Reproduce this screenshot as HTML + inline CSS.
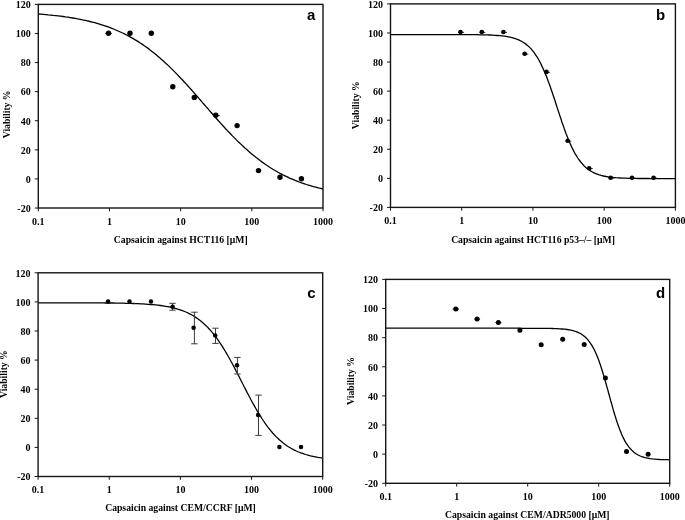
<!DOCTYPE html>
<html><head><meta charset="utf-8"><style>
html,body{margin:0;padding:0;background:#fff;}
svg{display:block;will-change:transform;}
text{font-family:"Liberation Serif",serif;font-weight:bold;font-size:9.7px;fill:#000;}
text.tk{font-size:10px;}
text.lt{font-family:"Liberation Sans",sans-serif;font-size:15px;}
</style></head><body>
<svg width="685" height="520" viewBox="0 0 685 520">
<path d="M38.3,14.0 40.8,14.2 43.3,14.4 45.8,14.6 48.3,14.9 50.7,15.1 53.2,15.4 55.7,15.6 58.1,15.9 60.6,16.2 63.0,16.5 65.5,16.9 68.0,17.2 70.4,17.6 72.8,18.0 75.3,18.4 77.7,18.9 80.2,19.3 82.7,19.9 85.1,20.4 87.5,20.9 89.9,21.5 92.3,22.1 94.7,22.7 97.1,23.4 99.5,24.1 101.8,24.8 104.2,25.6 106.6,26.4 108.9,27.2 111.2,28.1 113.6,29.0 115.8,30.0 118.1,31.0 120.4,32.0 122.6,33.0 124.9,34.1 127.1,35.3 129.2,36.4 131.4,37.6 133.6,38.9 135.7,40.1 137.8,41.4 139.9,42.8 142.0,44.1 144.0,45.5 146.1,47.0 148.1,48.4 150.1,49.9 152.0,51.4 154.0,53.0 155.9,54.6 157.8,56.2 159.7,57.8 161.5,59.4 163.4,61.0 165.2,62.7 167.1,64.4 168.9,66.1 170.6,67.9 172.4,69.6 174.2,71.4 175.9,73.1 177.6,74.9 179.3,76.7 181.0,78.5 182.8,80.3 184.5,82.2 186.1,83.9 187.8,85.8 189.4,87.6 191.1,89.5 192.8,91.4 194.4,93.3 196.1,95.1 197.7,97.0 199.3,98.9 200.9,100.7 202.5,102.6 204.2,104.5 205.8,106.4 207.5,108.2 209.1,110.1 210.7,112.0 212.3,113.8 213.9,115.7 215.6,117.6 217.3,119.5 218.9,121.3 220.6,123.1 222.3,125.0 223.9,126.8 225.6,128.7 227.2,130.4 229.0,132.2 230.7,134.0 232.4,135.9 234.2,137.6 235.9,139.4 237.6,141.1 239.4,142.8 241.3,144.6 243.1,146.3 244.9,148.0 246.8,149.6 248.6,151.3 250.5,152.9 252.4,154.5 254.3,156.1 256.2,157.6 258.2,159.1 260.1,160.6 262.2,162.1 264.2,163.5 266.3,165.0 268.3,166.3 270.4,167.7 272.5,169.0 274.6,170.3 276.7,171.5 278.9,172.7 281.1,173.9 283.3,175.1 285.6,176.2 287.8,177.2 290.0,178.3 292.3,179.2 294.6,180.2 296.9,181.1 299.2,182.0 301.6,182.9 303.9,183.7 306.3,184.5 308.6,185.2 311.0,185.9 313.4,186.6 315.8,187.2 318.2,187.9 320.7,188.4 323.0,189.0" fill="none" stroke="#000" stroke-width="1.3"/>
<path d="M105.00,33.40 H112.00" stroke="#000" stroke-width="0.8"/>
<path d="M213.80,115.60 H219.80" stroke="#000" stroke-width="0.8"/>
<circle cx="108.5" cy="33.3" r="2.7" fill="#000"/>
<circle cx="130" cy="33.3" r="2.7" fill="#000"/>
<circle cx="151.3" cy="33.3" r="2.7" fill="#000"/>
<circle cx="172.8" cy="86.7" r="2.7" fill="#000"/>
<circle cx="194.3" cy="97.4" r="2.7" fill="#000"/>
<circle cx="215.8" cy="115.2" r="2.7" fill="#000"/>
<circle cx="237.1" cy="125.6" r="2.7" fill="#000"/>
<circle cx="258.5" cy="170.6" r="2.7" fill="#000"/>
<circle cx="280" cy="177.3" r="2.7" fill="#000"/>
<circle cx="301.4" cy="178.8" r="2.7" fill="#000"/>
<rect x="38.3" y="4.4" width="284.70" height="203.60" fill="none" stroke="#151515" stroke-width="1.4"/>
<text x="30.70" y="8.20" text-anchor="end" class="tk">120</text>
<text x="30.70" y="37.29" text-anchor="end" class="tk">100</text>
<text x="30.70" y="66.37" text-anchor="end" class="tk">80</text>
<text x="30.70" y="95.46" text-anchor="end" class="tk">60</text>
<text x="30.70" y="124.54" text-anchor="end" class="tk">40</text>
<text x="30.70" y="153.63" text-anchor="end" class="tk">20</text>
<text x="30.70" y="182.71" text-anchor="end" class="tk">0</text>
<text x="30.70" y="211.80" text-anchor="end" class="tk">-20</text>
<text x="38.30" y="224.90" text-anchor="middle" class="tk">0.1</text>
<text x="109.47" y="224.90" text-anchor="middle" class="tk">1</text>
<text x="180.65" y="224.90" text-anchor="middle" class="tk">10</text>
<text x="251.82" y="224.90" text-anchor="middle" class="tk">100</text>
<text x="323.00" y="224.90" text-anchor="middle" class="tk">1000</text>
<path d="M34.80,4.40 H38.30 M34.80,33.49 H38.30 M34.80,62.57 H38.30 M34.80,91.66 H38.30 M34.80,120.74 H38.30 M34.80,149.83 H38.30 M34.80,178.91 H38.30 M34.80,208.00 H38.30 M38.30,208.00 V211.30 M109.47,208.00 V211.30 M180.65,208.00 V211.30 M251.82,208.00 V211.30 M323.00,208.00 V211.30" stroke="#151515" stroke-width="1" fill="none"/>
<text x="315.3" y="20.0" text-anchor="end" class="lt">a</text>
<text transform="translate(10.2,114.35) rotate(-90)" text-anchor="middle">Viability %</text>
<text x="180.75" y="242.6" text-anchor="middle">Capsaicin against HCT116 [μM]</text>
<path d="M390.5,34.6 393.0,34.6 395.5,34.6 398.0,34.6 400.5,34.6 403.0,34.6 405.5,34.6 408.0,34.6 410.4,34.6 412.9,34.6 415.4,34.6 417.9,34.6 420.4,34.6 422.8,34.6 425.3,34.6 427.8,34.6 430.3,34.6 432.7,34.6 435.2,34.6 437.7,34.6 440.2,34.6 442.7,34.6 445.2,34.6 447.7,34.6 450.2,34.6 452.7,34.6 455.1,34.6 457.6,34.6 460.1,34.6 462.6,34.6 465.1,34.6 467.6,34.6 470.1,34.6 472.6,34.7 475.0,34.7 477.5,34.7 480.0,34.8 482.5,34.8 485.0,34.9 487.5,34.9 490.0,35.0 492.4,35.1 494.9,35.3 497.4,35.5 499.9,35.7 502.4,35.9 504.8,36.2 507.3,36.6 509.7,37.1 512.1,37.6 514.5,38.3 516.8,39.1 519.2,40.1 521.4,41.2 523.5,42.5 525.6,43.9 527.5,45.4 529.4,47.1 531.1,48.9 532.7,50.8 534.2,52.7 535.6,54.8 537.0,56.8 538.3,59.0 539.5,61.2 540.6,63.3 541.7,65.6 542.8,67.9 543.8,70.2 544.8,72.5 545.7,74.7 546.7,77.1 547.5,79.3 548.4,81.8 549.3,84.1 550.1,86.3 550.9,88.7 551.7,91.0 552.5,93.3 553.3,95.7 554.1,98.0 554.9,100.4 555.6,102.8 556.4,105.2 557.2,107.6 558.0,110.1 558.7,112.2 559.5,114.6 560.3,117.0 561.1,119.3 561.8,121.7 562.7,124.2 563.5,126.4 564.3,128.8 565.2,131.2 566.0,133.5 566.9,135.7 567.8,138.0 568.7,140.3 569.7,142.6 570.7,144.9 571.8,147.2 572.9,149.4 574.0,151.6 575.2,153.8 576.5,155.9 577.8,158.0 579.2,160.0 580.7,162.0 582.4,163.9 584.0,165.7 585.8,167.4 587.8,169.0 589.8,170.4 591.9,171.7 594.1,172.9 596.4,173.8 598.7,174.7 601.1,175.4 603.5,176.0 605.9,176.5 608.4,176.9 610.9,177.2 613.3,177.5 615.8,177.7 618.3,177.8 620.8,178.0 623.3,178.1 625.7,178.2 628.2,178.3 630.7,178.3 633.2,178.4 635.6,178.4 638.1,178.5 640.6,178.5 643.1,178.5 645.6,178.5 648.1,178.5 650.6,178.6 653.1,178.6 655.5,178.6 658.0,178.6 660.5,178.6 663.0,178.6 665.5,178.6 668.0,178.6 670.5,178.6 673.0,178.6 675.4,178.6" fill="none" stroke="#000" stroke-width="1.3"/>
<path d="M458.00,32.40 H464.10" stroke="#000" stroke-width="0.8"/>
<path d="M479.30,32.40 H485.40" stroke="#000" stroke-width="0.8"/>
<path d="M500.90,32.40 H507.00" stroke="#000" stroke-width="0.8"/>
<path d="M522.20,54.10 H528.30" stroke="#000" stroke-width="0.8"/>
<path d="M544.00,72.30 H550.10" stroke="#000" stroke-width="0.8"/>
<path d="M565.20,141.20 H571.30" stroke="#000" stroke-width="0.8"/>
<path d="M586.70,168.60 H592.80" stroke="#000" stroke-width="0.8"/>
<path d="M608.10,178.10 H614.20" stroke="#000" stroke-width="0.8"/>
<path d="M629.50,178.10 H635.60" stroke="#000" stroke-width="0.8"/>
<path d="M651.10,178.10 H657.20" stroke="#000" stroke-width="0.8"/>
<circle cx="460.5" cy="32" r="2.3" fill="#000"/>
<circle cx="481.8" cy="32" r="2.3" fill="#000"/>
<circle cx="503.4" cy="32" r="2.3" fill="#000"/>
<circle cx="524.7" cy="53.7" r="2.3" fill="#000"/>
<circle cx="546.5" cy="71.9" r="2.3" fill="#000"/>
<circle cx="567.7" cy="140.8" r="2.3" fill="#000"/>
<circle cx="589.2" cy="168.2" r="2.3" fill="#000"/>
<circle cx="610.6" cy="177.7" r="2.3" fill="#000"/>
<circle cx="632" cy="177.7" r="2.3" fill="#000"/>
<circle cx="653.6" cy="177.7" r="2.3" fill="#000"/>
<rect x="390.5" y="3.9" width="284.90" height="203.50" fill="none" stroke="#151515" stroke-width="1.4"/>
<text x="382.90" y="7.70" text-anchor="end" class="tk">120</text>
<text x="382.90" y="36.77" text-anchor="end" class="tk">100</text>
<text x="382.90" y="65.84" text-anchor="end" class="tk">80</text>
<text x="382.90" y="94.91" text-anchor="end" class="tk">60</text>
<text x="382.90" y="123.99" text-anchor="end" class="tk">40</text>
<text x="382.90" y="153.06" text-anchor="end" class="tk">20</text>
<text x="382.90" y="182.13" text-anchor="end" class="tk">0</text>
<text x="382.90" y="211.20" text-anchor="end" class="tk">-20</text>
<text x="390.50" y="224.30" text-anchor="middle" class="tk">0.1</text>
<text x="461.73" y="224.30" text-anchor="middle" class="tk">1</text>
<text x="532.95" y="224.30" text-anchor="middle" class="tk">10</text>
<text x="604.17" y="224.30" text-anchor="middle" class="tk">100</text>
<text x="675.40" y="224.30" text-anchor="middle" class="tk">1000</text>
<path d="M387.00,3.90 H390.50 M387.00,32.97 H390.50 M387.00,62.04 H390.50 M387.00,91.11 H390.50 M387.00,120.19 H390.50 M387.00,149.26 H390.50 M387.00,178.33 H390.50 M387.00,207.40 H390.50 M390.50,207.40 V210.70 M461.73,207.40 V210.70 M532.95,207.40 V210.70 M604.17,207.40 V210.70 M675.40,207.40 V210.70" stroke="#151515" stroke-width="1" fill="none"/>
<text x="665.1" y="20.1" text-anchor="end" class="lt">b</text>
<text transform="translate(359.4,105.25) rotate(-90)" text-anchor="middle">Viability %</text>
<text x="533.0" y="242.6" text-anchor="middle">Capsaicin against HCT116 p53–/– [μM]</text>
<path d="M38.1,302.8 40.7,302.8 43.2,302.8 45.6,302.8 48.1,302.8 50.6,302.8 53.1,302.8 55.6,302.8 58.1,302.8 60.7,302.8 63.2,302.8 65.6,302.8 68.1,302.8 70.6,302.8 73.1,302.8 75.6,302.8 78.1,302.8 80.6,302.8 83.1,302.8 85.6,302.9 88.1,302.9 90.6,302.9 93.1,302.9 95.6,302.9 98.1,302.9 100.6,302.9 103.1,302.9 105.6,303.0 108.1,303.0 110.6,303.0 113.1,303.0 115.6,303.1 118.1,303.1 120.6,303.2 123.1,303.2 125.6,303.3 128.1,303.3 130.6,303.4 133.1,303.5 135.6,303.6 138.1,303.7 140.6,303.8 143.1,303.9 145.6,304.1 148.1,304.3 150.5,304.5 153.0,304.7 155.5,304.9 158.0,305.2 160.5,305.5 163.0,305.9 165.4,306.3 167.9,306.7 170.3,307.2 172.8,307.8 175.2,308.4 177.6,309.0 180.0,309.8 182.4,310.6 184.7,311.5 187.0,312.5 189.3,313.6 191.5,314.8 193.6,316.0 195.7,317.4 197.8,318.8 199.8,320.3 201.7,321.8 203.6,323.5 205.5,325.2 207.3,326.9 209.0,328.7 210.7,330.6 212.2,332.4 213.9,334.5 215.4,336.4 216.9,338.4 218.3,340.4 219.7,342.5 221.1,344.6 222.5,346.7 223.8,348.8 225.1,351.0 226.4,353.1 227.6,355.2 228.9,357.5 230.1,359.7 231.2,361.7 232.5,364.0 233.7,366.3 234.8,368.4 235.9,370.6 237.1,372.8 238.2,375.0 239.4,377.3 240.5,379.5 241.6,381.7 242.8,384.0 243.9,386.2 245.1,388.4 246.2,390.6 247.3,392.9 248.5,395.0 249.7,397.3 250.8,399.5 252.0,401.7 253.2,403.9 254.5,406.1 255.7,408.2 256.9,410.4 258.2,412.6 259.5,414.7 260.9,416.9 262.2,419.0 263.6,421.0 265.0,423.1 266.4,425.1 267.9,427.1 269.5,429.1 271.0,431.0 272.7,433.0 274.3,434.8 276.0,436.6 277.8,438.3 279.6,440.0 281.5,441.6 283.5,443.2 285.5,444.7 287.5,446.2 289.7,447.5 291.8,448.7 294.0,449.9 296.3,451.0 298.6,452.0 300.9,452.9 303.3,453.7 305.6,454.5 308.0,455.2 310.5,455.8 312.9,456.3 315.4,456.8 317.8,457.3 320.3,457.7 322.7,458.0" fill="none" stroke="#000" stroke-width="1.3"/>
<path d="M172.5,303.3 V310.2 M169.3,303.3 H175.7 M169.3,310.2 H175.7" stroke="#3a3a3a" stroke-width="1" fill="none"/>
<path d="M194.4,312.2 V343.8 M191.20000000000002,312.2 H197.6 M191.20000000000002,343.8 H197.6" stroke="#3a3a3a" stroke-width="1" fill="none"/>
<path d="M215.5,328.2 V343.4 M212.3,328.2 H218.7 M212.3,343.4 H218.7" stroke="#3a3a3a" stroke-width="1" fill="none"/>
<path d="M237.4,357.4 V374.0 M234.20000000000002,357.4 H240.6 M234.20000000000002,374.0 H240.6" stroke="#3a3a3a" stroke-width="1" fill="none"/>
<path d="M258.5,395.1 V435.4 M255.3,395.1 H261.7 M255.3,435.4 H261.7" stroke="#3a3a3a" stroke-width="1" fill="none"/>
<circle cx="108.1" cy="301.4" r="2.25" fill="#000"/>
<circle cx="129.5" cy="301.4" r="2.25" fill="#000"/>
<circle cx="151" cy="301.4" r="2.25" fill="#000"/>
<circle cx="172.6" cy="306.7" r="2.25" fill="#000"/>
<circle cx="193.6" cy="327.7" r="2.25" fill="#000"/>
<circle cx="215.2" cy="335.6" r="2.25" fill="#000"/>
<circle cx="237" cy="365.2" r="2.25" fill="#000"/>
<circle cx="258.1" cy="414.9" r="2.25" fill="#000"/>
<circle cx="279.4" cy="447.1" r="2.25" fill="#000"/>
<circle cx="301" cy="447.1" r="2.25" fill="#000"/>
<rect x="38.1" y="272.8" width="284.60" height="203.70" fill="none" stroke="#151515" stroke-width="1.4"/>
<text x="30.50" y="276.60" text-anchor="end" class="tk">120</text>
<text x="30.50" y="305.70" text-anchor="end" class="tk">100</text>
<text x="30.50" y="334.80" text-anchor="end" class="tk">80</text>
<text x="30.50" y="363.90" text-anchor="end" class="tk">60</text>
<text x="30.50" y="393.00" text-anchor="end" class="tk">40</text>
<text x="30.50" y="422.10" text-anchor="end" class="tk">20</text>
<text x="30.50" y="451.20" text-anchor="end" class="tk">0</text>
<text x="30.50" y="480.30" text-anchor="end" class="tk">-20</text>
<text x="38.10" y="493.40" text-anchor="middle" class="tk">0.1</text>
<text x="109.25" y="493.40" text-anchor="middle" class="tk">1</text>
<text x="180.40" y="493.40" text-anchor="middle" class="tk">10</text>
<text x="251.55" y="493.40" text-anchor="middle" class="tk">100</text>
<text x="322.70" y="493.40" text-anchor="middle" class="tk">1000</text>
<path d="M34.60,272.80 H38.10 M34.60,301.90 H38.10 M34.60,331.00 H38.10 M34.60,360.10 H38.10 M34.60,389.20 H38.10 M34.60,418.30 H38.10 M34.60,447.40 H38.10 M34.60,476.50 H38.10 M38.10,476.50 V479.80 M109.25,476.50 V479.80 M180.40,476.50 V479.80 M251.55,476.50 V479.80 M322.70,476.50 V479.80" stroke="#151515" stroke-width="1" fill="none"/>
<text x="315.7" y="298.2" text-anchor="end" class="lt">c</text>
<text transform="translate(7.0,374.1) rotate(-90)" text-anchor="middle">Viability %</text>
<text x="180.5" y="511.1" text-anchor="middle">Capsaicin against CEM/CCRF [μM]</text>
<path d="M385.7,328.2 388.2,328.2 390.7,328.2 393.2,328.2 395.6,328.2 398.1,328.2 400.6,328.2 403.1,328.2 405.6,328.2 408.1,328.2 410.6,328.2 413.0,328.2 415.5,328.2 418.0,328.2 420.5,328.2 423.0,328.2 425.5,328.2 428.0,328.2 430.4,328.2 432.9,328.2 435.4,328.2 437.9,328.2 440.4,328.2 442.9,328.2 445.4,328.2 447.8,328.2 450.3,328.2 452.8,328.2 455.3,328.2 457.8,328.2 460.3,328.2 462.8,328.2 465.2,328.2 467.7,328.2 470.2,328.2 472.7,328.2 475.2,328.2 477.7,328.2 480.2,328.2 482.6,328.2 485.1,328.2 487.6,328.2 490.1,328.2 492.6,328.2 495.1,328.2 497.6,328.2 500.0,328.2 502.5,328.2 505.0,328.2 507.5,328.2 510.0,328.2 512.5,328.2 515.0,328.2 517.4,328.2 519.9,328.2 522.4,328.3 524.9,328.3 527.4,328.3 529.9,328.3 532.4,328.3 534.8,328.3 537.3,328.3 539.8,328.3 542.3,328.3 544.8,328.3 547.3,328.4 549.8,328.4 552.2,328.5 554.7,328.6 557.2,328.7 559.7,328.8 562.1,329.0 564.6,329.2 567.1,329.5 569.6,329.9 572.0,330.4 574.4,331.0 576.7,331.8 579.0,332.8 581.2,334.0 583.3,335.4 585.2,337.0 586.9,338.7 588.5,340.6 590.0,342.6 591.4,344.7 592.7,346.9 593.9,349.0 595.0,351.3 596.0,353.5 597.0,355.8 597.9,358.1 598.8,360.3 599.6,362.7 600.5,365.2 601.2,367.5 602.0,370.0 602.7,372.2 603.4,374.6 604.2,377.0 604.9,379.4 605.5,381.7 606.2,384.2 606.8,386.5 607.6,389.1 608.2,391.4 608.8,393.8 609.5,396.1 610.1,398.4 610.8,401.0 611.5,403.3 612.1,405.6 612.8,408.1 613.5,410.6 614.2,413.0 614.9,415.3 615.7,417.6 616.4,420.1 617.1,422.3 618.0,424.8 618.8,427.0 619.7,429.4 620.6,431.6 621.5,434.0 622.5,436.2 623.6,438.4 624.7,440.6 626.0,442.8 627.4,444.9 628.8,446.9 630.4,448.8 632.1,450.6 633.9,452.2 636.0,453.7 638.1,455.0 640.3,456.0 642.6,456.9 645.1,457.6 647.5,458.1 649.9,458.6 652.4,458.9 654.9,459.1 657.3,459.3 659.8,459.5 662.3,459.6 664.8,459.7 667.3,459.7 669.7,459.8" fill="none" stroke="#000" stroke-width="1.3"/>
<path d="M452.60,309.10 H459.00" stroke="#000" stroke-width="0.8"/>
<path d="M474.10,319.10 H480.10" stroke="#000" stroke-width="0.8"/>
<path d="M495.40,322.50 H501.40" stroke="#000" stroke-width="0.8"/>
<circle cx="455.8" cy="309.1" r="2.5" fill="#000"/>
<circle cx="477.1" cy="319.1" r="2.5" fill="#000"/>
<circle cx="498.4" cy="322.5" r="2.5" fill="#000"/>
<circle cx="519.9" cy="330.3" r="2.5" fill="#000"/>
<circle cx="541.2" cy="344.8" r="2.5" fill="#000"/>
<circle cx="562.7" cy="339.2" r="2.5" fill="#000"/>
<circle cx="584.2" cy="344.5" r="2.5" fill="#000"/>
<circle cx="605.4" cy="378.1" r="2.5" fill="#000"/>
<circle cx="626.5" cy="451.6" r="2.5" fill="#000"/>
<circle cx="648.1" cy="454.2" r="2.5" fill="#000"/>
<rect x="385.7" y="279.4" width="284.00" height="203.90" fill="none" stroke="#151515" stroke-width="1.4"/>
<text x="378.10" y="283.20" text-anchor="end" class="tk">120</text>
<text x="378.10" y="312.33" text-anchor="end" class="tk">100</text>
<text x="378.10" y="341.46" text-anchor="end" class="tk">80</text>
<text x="378.10" y="370.59" text-anchor="end" class="tk">60</text>
<text x="378.10" y="399.71" text-anchor="end" class="tk">40</text>
<text x="378.10" y="428.84" text-anchor="end" class="tk">20</text>
<text x="378.10" y="457.97" text-anchor="end" class="tk">0</text>
<text x="378.10" y="487.10" text-anchor="end" class="tk">-20</text>
<text x="385.70" y="500.20" text-anchor="middle" class="tk">0.1</text>
<text x="456.70" y="500.20" text-anchor="middle" class="tk">1</text>
<text x="527.70" y="500.20" text-anchor="middle" class="tk">10</text>
<text x="598.70" y="500.20" text-anchor="middle" class="tk">100</text>
<text x="669.70" y="500.20" text-anchor="middle" class="tk">1000</text>
<path d="M382.20,279.40 H385.70 M382.20,308.53 H385.70 M382.20,337.66 H385.70 M382.20,366.79 H385.70 M382.20,395.91 H385.70 M382.20,425.04 H385.70 M382.20,454.17 H385.70 M382.20,483.30 H385.70 M385.70,483.30 V486.60 M456.70,483.30 V486.60 M527.70,483.30 V486.60 M598.70,483.30 V486.60 M669.70,483.30 V486.60" stroke="#151515" stroke-width="1" fill="none"/>
<text x="665.2" y="297.7" text-anchor="end" class="lt">d</text>
<text transform="translate(354.3,381.0) rotate(-90)" text-anchor="middle">Viability %</text>
<text x="527.25" y="517.8" text-anchor="middle">Capsaicin against CEM/ADR5000 [μM]</text>
</svg>
</body></html>
